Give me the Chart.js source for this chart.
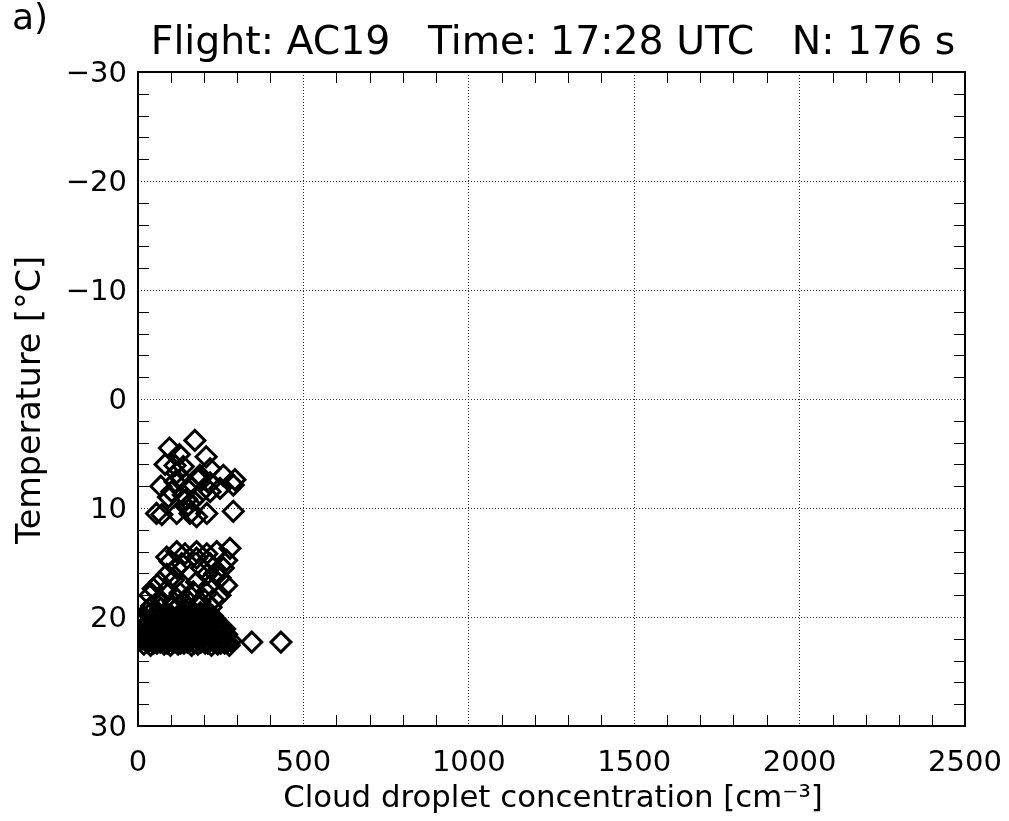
<!DOCTYPE html>
<html>
<head>
<meta charset="utf-8">
<script src="https://cdn.jsdelivr.net/npm/chart.js@4.4.1/dist/chart.umd.min.js"></script>
<style>
  html, body { margin: 0; padding: 0; background: #fff; }
  canvas { display: block; }
</style>
</head>
<body>
<canvas id="grafico" width="1009" height="821"></canvas>
<script>
// upper cloud layer (around 4..11 C)
const concUpper = [172, 95, 125, 206, 82, 112, 137, 218, 117, 187, 258, 293, 182, 218, 112, 288, 69, 157,
  248, 102, 218, 187, 137, 167, 147, 288, 56, 117, 157, 208, 72, 177, 92, 147, 130];
const tempUpper = [3.8, 4.5, 5.1, 5.3, 6.0, 6.1, 6.2, 6.4, 6.8, 7.0, 7.0, 7.4, 7.4, 7.7, 7.6, 7.9, 8.0, 8.0,
  8.2, 8.5, 8.5, 8.7, 8.8, 9.3, 9.9, 10.3, 10.5, 10.5, 10.5, 10.5, 10.6, 10.8, 9.0, 9.2, 7.3];

// middle layer (around 14..18.6 C)
const concMiddle = [87, 117, 142, 177, 208, 238, 278, 268, 218, 177, 97, 132, 258, 248, 268, 208, 117, 87,
  66, 46, 36, 107, 137, 177, 218, 87, 127, 167, 208, 248, 66, 107, 147, 187, 228, 192, 233];
const tempMiddle = [14.5, 14.0, 14.2, 14.0, 14.2, 14.0, 13.7, 14.8, 15.1, 14.6, 14.9, 15.1, 15.5, 16.4, 17.1, 16.1, 15.5, 16.1,
  16.8, 17.4, 18.0, 16.6, 17.1, 16.8, 17.1, 17.5, 17.8, 17.7, 17.8, 18.0, 18.4, 18.6, 18.4, 18.6, 18.4, 15.5, 16.0];

// lowest layer (around 19..22.6 C)
const concLower = [
  18, 38, 57, 79, 98, 121, 139, 162, 181, 203, 222, 241, 262, 276,
  28, 47, 67, 88, 108, 129, 149, 170, 190, 211, 231, 250, 270,
  12, 33, 54, 76, 95, 117, 134, 156, 176, 197, 214, 236, 255, 281, 344, 432,
  26, 52, 88, 124, 159, 193, 228, 259,
  21, 44, 68, 91, 109, 131, 152, 171, 192, 209, 231, 251, 268,
  25, 49, 73, 95, 116, 138, 158, 178, 198, 218, 238, 256,
  14, 37, 61, 83, 104, 127, 146, 164, 186, 206, 226, 244, 262,
  23, 70, 112, 152, 190, 232,
  9, 29, 54, 78, 101, 119, 142, 161, 182, 199, 221, 241,
  12, 35, 59, 82, 106, 127, 148, 169, 189, 208, 228,
  19, 46, 66, 88, 114, 136, 157, 174, 196, 216, 233,
  33, 58, 79, 101, 124, 147, 168, 187, 207, 225,
  29, 56, 84, 111, 139, 166, 189, 211,
  41, 69, 99, 126, 154, 184, 221];
const tempLower = [
  22.5, 22.6, 22.4, 22.5, 22.6, 22.5, 22.4, 22.6, 22.5, 22.4, 22.6, 22.5, 22.4, 22.6,
  22.3, 22.4, 22.3, 22.4, 22.3, 22.4, 22.3, 22.4, 22.3, 22.4, 22.3, 22.4, 22.3,
  22.0, 22.2, 22.1, 21.9, 22.2, 22.0, 22.1, 22.2, 21.9, 22.1, 22.2, 22.0, 22.1, 22.2, 22.3, 22.3,
  21.8, 21.9, 21.8, 21.9, 21.8, 21.9, 21.8, 21.9,
  21.5, 21.7, 21.6, 21.4, 21.7, 21.5, 21.6, 21.8, 21.5, 21.6, 21.4, 21.7, 21.6,
  21.3, 21.4, 21.3, 21.4, 21.3, 21.4, 21.3, 21.4, 21.3, 21.4, 21.3, 21.4,
  21.0, 21.2, 21.1, 20.9, 21.2, 21.0, 21.1, 21.3, 21.0, 21.1, 21.2, 21.0, 21.1,
  20.8, 20.9, 20.8, 20.9, 20.8, 20.9,
  20.5, 20.7, 20.6, 20.4, 20.7, 20.5, 20.6, 20.8, 20.5, 20.6, 20.4, 20.7,
  20.3, 20.4, 20.3, 20.4, 20.3, 20.4, 20.3, 20.4, 20.3, 20.4, 20.3,
  20.0, 20.2, 20.1, 19.9, 20.2, 20.0, 20.1, 20.3, 20.0, 20.1, 20.2,
  19.8, 19.9, 19.8, 19.9, 19.8, 19.9, 19.8, 19.9, 19.8, 19.9,
  19.5, 19.7, 19.6, 19.4, 19.7, 19.5, 19.6, 19.5,
  19.0, 19.2, 19.1, 18.9, 19.2, 19.0, 19.1];

const xTicks = [0, 500, 1000, 1500, 2000, 2500];
const yTicks = [-30, -20, -10, 0, 10, 20, 30];

const tituloTexto = "Flight: AC19   Time: 17:28 UTC   N: 176 s";
const painelTexto = "a)";
const xTitulo = "Cloud droplet concentration [cm\u207B\u00B3]";
const yTitulo = "Temperature [\u00B0C]";

const fonte = "'DejaVu Sans', sans-serif";

function juntaPontos(xs, ys) {
  return xs.map(function (v, i) {
    return { x: v, y: ys[i] };
  });
}

const pontos = juntaPontos(concUpper, tempUpper)
  .concat(juntaPontos(concMiddle, tempMiddle))
  .concat(juntaPontos(concLower, tempLower));

// writes a text so that it fills the given width
function textoLargura(c, texto, x, y, largura) {
  c.font = "30px " + fonte;
  const w = c.measureText(texto).width;
  const tamanho = (30 * largura) / w;
  c.font = tamanho.toFixed(1) + "px " + fonte;
  c.fillText(texto, x, y);
}

// frame, inward minor ticks and the text around the plot
const molduraPlugin = {
  id: "moldura",
  afterDraw(chart) {
    const c = chart.ctx;
    const a = chart.chartArea;
    const sx = chart.scales.x;
    const sy = chart.scales.y;
    const len = 11;

    c.save();
    c.strokeStyle = "#000";
    c.lineWidth = 1;
    c.beginPath();
    for (let v = 100; v < 2500; v += 100) {
      if (v % 500 === 0) continue;
      const px = Math.round(sx.getPixelForValue(v)) + 0.5;
      c.moveTo(px, a.bottom);
      c.lineTo(px, a.bottom - len);
      c.moveTo(px, a.top);
      c.lineTo(px, a.top + len);
    }
    for (let v = -28; v < 30; v += 2) {
      if (v % 10 === 0) continue;
      const py = Math.round(sy.getPixelForValue(v)) + 0.5;
      c.moveTo(a.left, py);
      c.lineTo(a.left + len, py);
      c.moveTo(a.right, py);
      c.lineTo(a.right - len, py);
    }
    c.stroke();

    c.lineWidth = 2;
    c.strokeRect(a.left, a.top, a.right - a.left, a.bottom - a.top);

    c.fillStyle = "#000";
    c.textBaseline = "middle";

    c.textAlign = "left";
    c.font = "36px " + fonte;
    c.fillText(painelTexto, 12, 20);

    c.textAlign = "center";
    textoLargura(c, tituloTexto, 553, 44, 805);
    textoLargura(c, xTitulo, 553, 799, 539);

    c.translate(31, 400);
    c.rotate(-Math.PI / 2);
    textoLargura(c, yTitulo, 0, 0, 288);
    c.restore();
  },
};

const ctx = document.getElementById("grafico");

const chart = new Chart(ctx, {
  type: "scatter",
  data: {
    datasets: [
      {
        data: pontos,
        pointStyle: "rectRot",
        pointRadius: 10,
        pointBorderWidth: 3,
        borderColor: "#000",
        backgroundColor: "rgba(0,0,0,0)",
      },
    ],
  },
  options: {
    responsive: false,
    animation: false,
    layout: { padding: { top: 72, right: 44, left: 0, bottom: 0 } },
    plugins: {
      legend: { display: false },
      tooltip: { enabled: false },
    },
    scales: {
      x: {
        type: "linear",
        min: 0,
        max: 2500,
        afterBuildTicks(s) {
          s.ticks = xTicks.map((v) => ({ value: v }));
        },
        afterFit(s) {
          s.height = 95;
          s.paddingLeft = 0;
          s.paddingRight = 0;
        },
        ticks: {
          color: "#000",
          font: { family: fonte, size: 29 },
          padding: 20,
          maxRotation: 0,
          autoSkip: false,
          callback: (v) => String(v),
        },
        grid: {
          drawTicks: false,
          lineWidth: 1,
          color: (c) =>
            c.tick && (c.tick.value === 0 || c.tick.value === 2500) ? "rgba(0,0,0,0)" : "#333",
        },
        border: { display: false, dash: [1, 2] },
      },
      y: {
        type: "linear",
        reverse: true,
        min: -30,
        max: 30,
        afterBuildTicks(s) {
          s.ticks = yTicks.map((v) => ({ value: v }));
        },
        afterFit(s) {
          s.width = 138;
          s.paddingTop = 0;
          s.paddingBottom = 0;
        },
        ticks: {
          color: "#000",
          font: { family: fonte, size: 29 },
          padding: 11,
          labelOffset: 2,
          callback: (v) => (v < 0 ? "\u2212" + Math.abs(v) : String(v)),
        },
        grid: {
          drawTicks: false,
          lineWidth: 1,
          color: (c) =>
            c.tick && (c.tick.value === -30 || c.tick.value === 30) ? "rgba(0,0,0,0)" : "#333",
        },
        border: { display: false, dash: [1, 2] },
      },
    },
  },
  plugins: [molduraPlugin],
});
</script>
</body>
</html>
